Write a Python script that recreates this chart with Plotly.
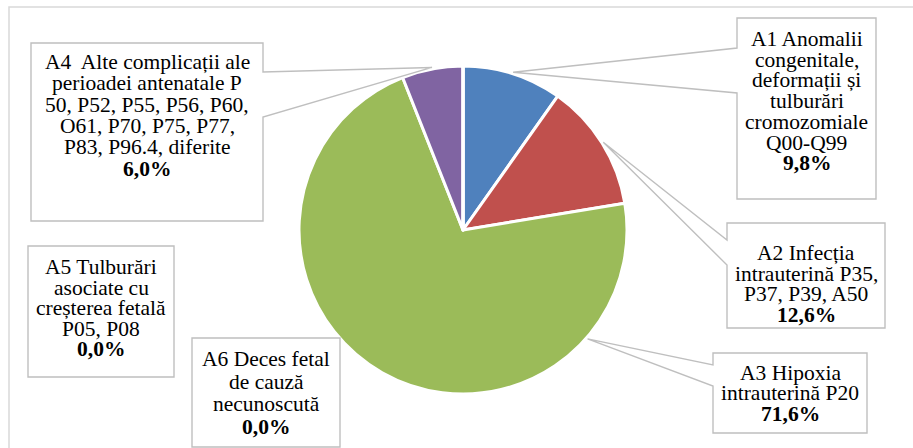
import math
import plotly.graph_objects as go

W, H = 913, 448

# Categories, shares (%) and label text
codes = ["A1", "A2", "A3", "A4", "A5", "A6"]
label_lines = [
    ["A1 Anomalii", "congenitale,", "deformații și", "tulburări", "cromozomiale", "Q00-Q99"],
    ["A2 Infecția", "intrauterină P35,", "P37, P39, A50"],
    ["A3 Hipoxia", "intrauterină P20"],
    ["A4  Alte complicații ale", "perioadei antenatale P", "50, P52, P55, P56, P60,",
     "O61, P70, P75, P77,", "P83, P96.4, diferite"],
    ["A5 Tulburări", "asociate cu", "creșterea fetală", "P05, P08"],
    ["A6 Deces fetal", "de cauză", "necunoscută"],
]
shares = [9.8, 12.6, 71.6, 6.0, 0.0, 0.0]
colors = ["#4f81bd", "#c0504d", "#9bbb59", "#8064a2", "#4bacc6", "#f79646"]

# Pie geometry in pixels
CX, CY, R = 463, 230, 164

# Callout boxes: (x0, y0, x1, y1), first text line centre, line step,
# pointer side and pointer base span, position of the tip within the slice
boxes = {
    "A1": dict(box=(737, 18, 876, 199), first=39, step=20.7, side="left", span=(48, 93), frac=0.5),
    "A2": dict(box=(727, 223, 885, 328), first=253, step=20.7, side="left", span=(240, 265), frac=0.5),
    "A3": dict(box=(713, 353, 867, 433), first=373, step=20.3, side="left", span=(365, 386), frac=0.196),
    "A4": dict(box=(31, 43, 263, 221), first=62, step=21.3, side="right", span=(72, 117), frac=0.5),
    "A5": dict(box=(28, 246, 174, 377), first=267, step=20.5, side=None),
    "A6": dict(box=(192, 338, 340, 447), first=359, step=22.5, side=None),
}

FONT = "Liberation Serif"
FS = 21.5
GRID = "#bfbfbf"


def fx(x):
    return x / W


def fy(y):
    return 1 - y / H


def pct(v):
    return f"{v:.1f}".replace(".", ",") + "%"


fig = go.Figure(go.Pie(
    labels=codes,
    values=shares,
    sort=False,
    direction="clockwise",
    rotation=0,
    textinfo="none",
    hoverinfo="label+percent",
    marker=dict(colors=colors, line=dict(color="white", width=3)),
    domain=dict(x=[fx(CX - R), fx(CX + R)], y=[fy(CY + R), fy(CY - R)]),
    showlegend=False,
))

total = sum(shares)
shapes = []
annotations = []

# outer chart frame
shapes.append(dict(type="rect", xref="paper", yref="paper",
                   x0=fx(9), y0=fy(7), x1=1.02, y1=-0.02,
                   line=dict(color="#d9d9d9", width=1.5), fillcolor="rgba(0,0,0,0)", layer="below"))

start = 0.0
for code, lines, v in zip(codes, label_lines, shares):
    cfg = boxes[code]
    x0, y0, x1, y1 = cfg["box"]
    side = cfg["side"]
    if side is not None:
        ang = math.radians(360.0 * (start + cfg["frac"] * v) / total)
        tx = CX + (R + 1.5) * math.sin(ang)
        ty = CY - (R + 1.5) * math.cos(ang)
        s0, s1 = cfg["span"]
        if side == "left":
            pts = [(x0, y0), (x1, y0), (x1, y1), (x0, y1), (x0, s1), (tx, ty), (x0, s0)]
        else:
            pts = [(x0, y0), (x1, y0), (x1, s0), (tx, ty), (x1, s1), (x1, y1), (x0, y1)]
    else:
        pts = [(x0, y0), (x1, y0), (x1, y1), (x0, y1)]
    path = "M " + " L ".join(f"{fx(px):.5f},{fy(py):.5f}" for px, py in pts) + " Z"
    shapes.append(dict(type="path", xref="paper", yref="paper", path=path,
                       fillcolor="white", line=dict(color=GRID, width=1.4)))

    texts = lines + [f"<b>{pct(v)}</b>"]
    xc = (x0 + x1) / 2
    for i, t in enumerate(texts):
        annotations.append(dict(
            x=fx(xc), y=fy(cfg["first"] + i * cfg["step"]), xref="paper", yref="paper",
            text=t, showarrow=False, xanchor="center", yanchor="middle",
            font=dict(family=FONT, size=FS, color="black"),
        ))
    start += v

fig.update_layout(
    width=W, height=H,
    margin=dict(l=0, r=0, t=0, b=0),
    paper_bgcolor="white", plot_bgcolor="white",
    font=dict(family=FONT),
    shapes=shapes, annotations=annotations,
)

fig.write_html("out.html")
